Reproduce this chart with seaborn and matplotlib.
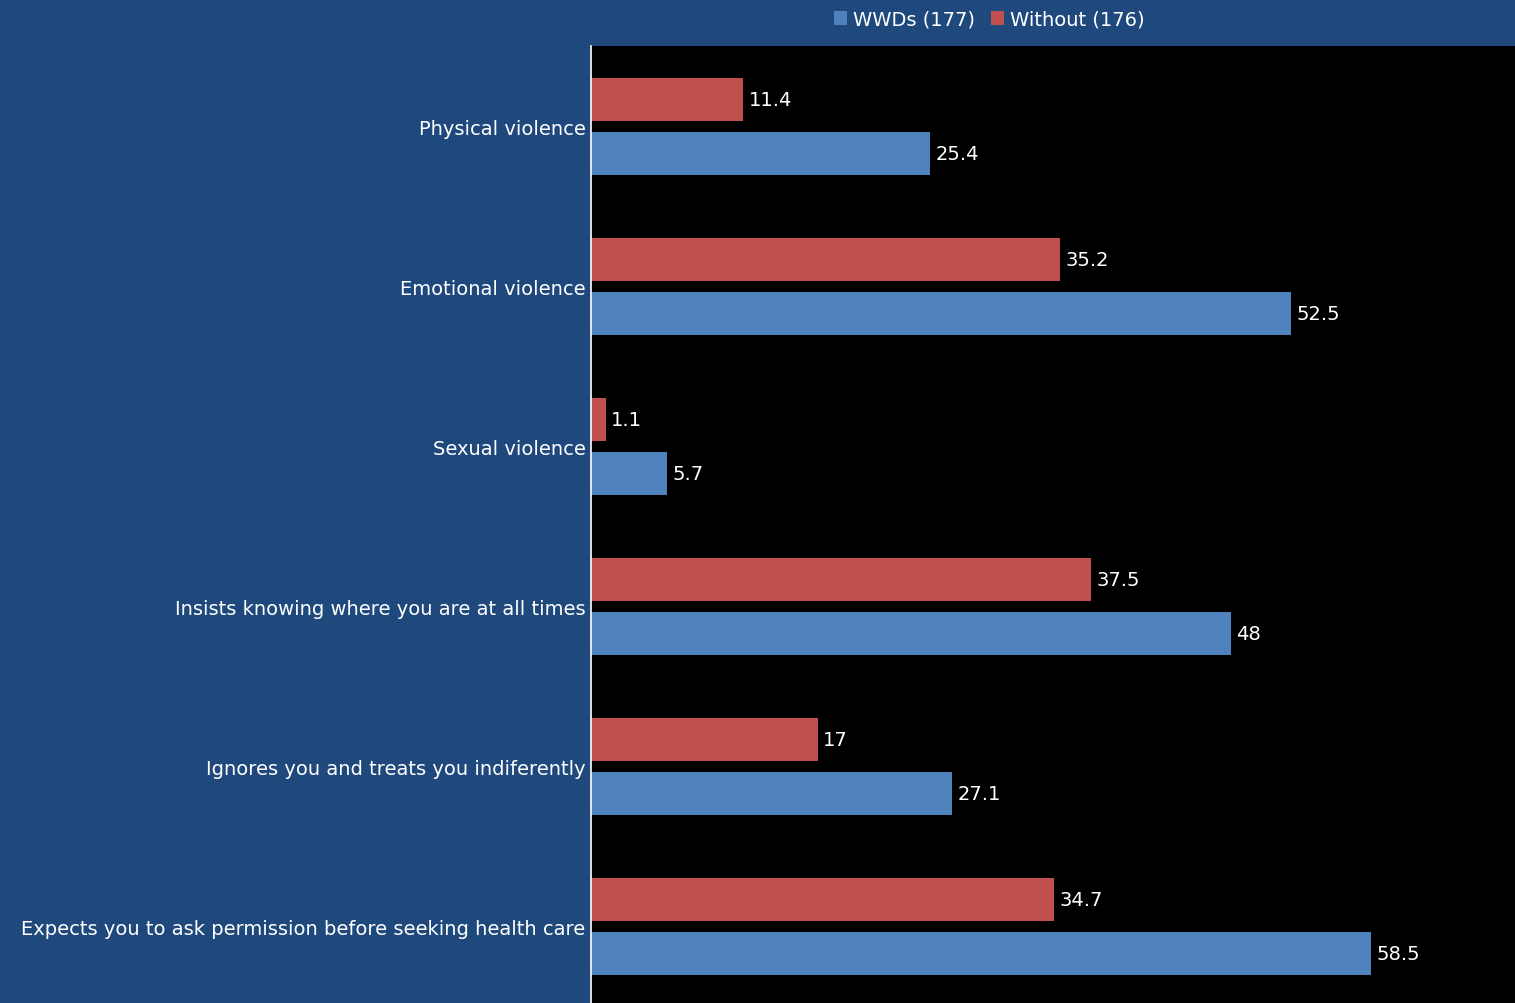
import matplotlib
matplotlib.use("Agg")
import matplotlib.pyplot as plt
from matplotlib.patches import Patch
import seaborn as sns
import pandas as pd

categories = [
    "Physical violence",
    "Emotional violence",
    "Sexual violence",
    "Insists knowing where you are at all times",
    "Ignores you and treats you indiferently",
    "Expects you to ask permission before seeking health care",
]
wwds = [25.4, 52.5, 5.7, 48, 27.1, 58.5]
without = [11.4, 35.2, 1.1, 37.5, 17, 34.7]
series_names = ["WWDs (177)", "Without (176)"]

BG = "#1F497D"
BLUE = "#4F81BD"
RED = "#C0504D"
FS = 14

sns.set_style("white")
plt.rcParams["font.family"] = ["DejaVu Sans"]

df = pd.DataFrame({
    "category": categories * 2,
    "value": wwds + without,
    "group": [series_names[0]] * len(categories) + [series_names[1]] * len(categories),
})

fig = plt.figure(figsize=(15.15, 10.04), dpi=100, facecolor=BG)
ax = fig.add_axes([591 / 1515, 0, 1 - 591 / 1515, (1004 - 47) / 1004])
ax.set_facecolor("black")

sns.barplot(
    data=df, y="category", x="value", hue="group", order=categories,
    hue_order=[series_names[1], series_names[0]],
    palette={series_names[0]: BLUE, series_names[1]: RED},
    orient="h", width=0.675, gap=0.204, errorbar=None, legend=False, ax=ax,
    saturation=1, linewidth=0,
)

for cont in ax.containers:
    ax.bar_label(cont, fmt="{:g}", padding=4, color="white", fontsize=FS)

ax.set_xlim(0, 69.3)
ax.set_ylim(5.478, -0.503)
ax.set_xlabel("")
ax.set_ylabel("")
ax.set_xticks([])
ax.tick_params(axis="y", length=0, pad=4, labelsize=FS, labelcolor="white")
for s in ["top", "right", "bottom"]:
    ax.spines[s].set_visible(False)
ax.spines["left"].set_color("white")
ax.spines["left"].set_linewidth(1.2)

handles = [Patch(facecolor=BLUE, edgecolor="none"), Patch(facecolor=RED, edgecolor="none")]
leg = fig.legend(handles, series_names, loc="center", bbox_to_anchor=(0.653, 0.980),
                 ncol=2, frameon=False, fontsize=FS, handlelength=0.7, handleheight=0.7,
                 handletextpad=0.3, columnspacing=0.8)
for t in leg.get_texts():
    t.set_color("white")

fig.savefig("out.png", dpi=100, facecolor=BG)
